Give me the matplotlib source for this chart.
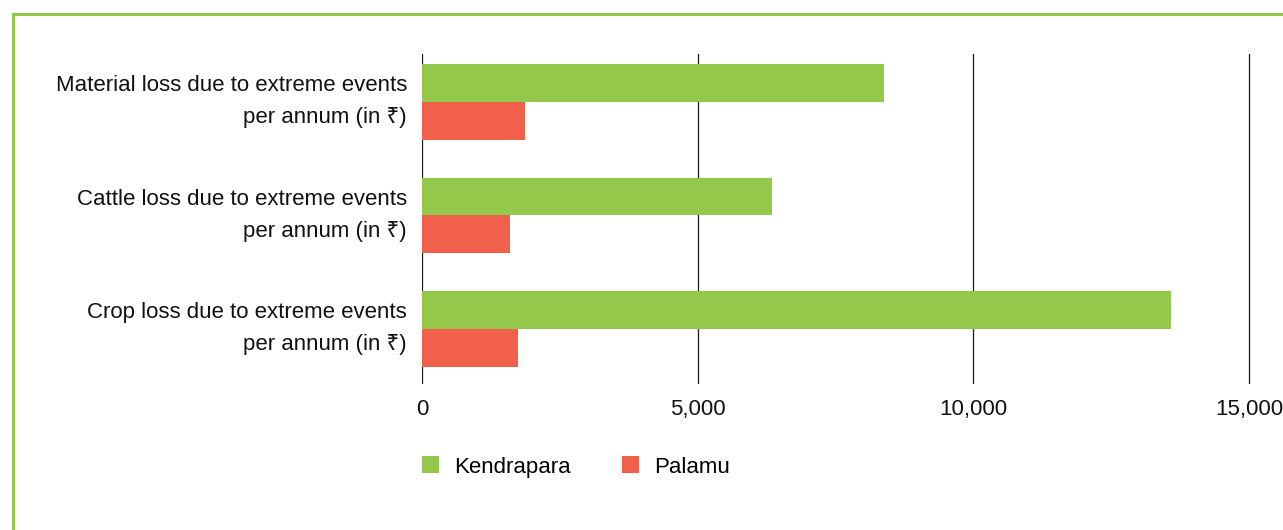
import matplotlib
matplotlib.use("Agg")
import matplotlib.pyplot as plt
import matplotlib.transforms as mtransforms
from matplotlib.lines import Line2D
from matplotlib.patches import Rectangle

# Data
categories = [
    "Crop loss due to extreme events\nper annum (in ₹)",
    "Cattle loss due to extreme events\nper annum (in ₹)",
    "Material loss due to extreme events\nper annum (in ₹)",
]
kendrapara = [13590, 6350, 8380]
palamu = [1745, 1600, 1870]
series_names = ["Kendrapara", "Palamu"]
x_ticks = [0, 5000, 10000, 15000]
x_tick_labels = ["0", "5,000", "10,000", "15,000"]

GREEN = "#93C84A"
RED = "#F1604B"
FS = 16

plt.rcParams["font.family"] = ["Liberation Sans", "Noto Sans", "DejaVu Sans"]

W, H = 1283, 530
x_max = 15030
fig = plt.figure(figsize=(W / 100, H / 100), dpi=100)
ax = fig.add_axes([422 / W, 1 - 384 / H, (1249 - 422) * x_max / 15000 / W, (384 - 54) / H])

bar_h = 0.333
ypos = list(range(len(categories)))
ax.barh([y + bar_h / 2 for y in ypos], kendrapara, height=bar_h, color=GREEN, zorder=3)
ax.barh([y - bar_h / 2 for y in ypos], palamu, height=bar_h, color=RED, zorder=3)

ax.set_xlim(0, x_max)
ax.set_ylim(-0.485, 2.423)
ax.set_xticks(x_ticks)
ax.set_xticklabels(x_tick_labels)
ax.set_yticks(ypos)
ax.set_yticklabels(categories, ha="right", multialignment="right", linespacing=1.7)
ax.tick_params(axis="both", length=0, labelsize=FS, colors="#111111")
ax.tick_params(axis="x", pad=10.5)
ax.tick_params(axis="y", pad=10.8)

# nudge the category labels up a little, like the original
shift = mtransforms.ScaledTranslation(0, 6 / 72, fig.dpi_scale_trans)
for lbl in ax.get_yticklabels():
    lbl.set_transform(lbl.get_transform() + shift)

for s in ax.spines.values():
    s.set_visible(False)
ax.set_axisbelow(True)
ax.grid(axis="x", color="#1a1a1a", linewidth=0.9, zorder=0)
ax.grid(axis="y", visible=False)

# Legend below the chart
handles = [
    Rectangle((0, 0), 1, 1, facecolor=GREEN),
    Rectangle((0, 0), 1, 1, facecolor=RED),
]
fig.legend(
    handles,
    series_names,
    loc="center left",
    bbox_to_anchor=(422 / W, 1 - 467 / H),
    ncol=2,
    frameon=False,
    fontsize=FS,
    handlelength=0.77,
    handleheight=0.77,
    handletextpad=0.68,
    columnspacing=2.3,
    borderpad=0,
    borderaxespad=0,
)

# Green frame (top and left edges visible in the crop)
fig.add_artist(Line2D([13 / W, 1], [1 - 14 / H, 1 - 14 / H], color=GREEN, linewidth=2.2,
                      transform=fig.transFigure))
fig.add_artist(Line2D([13 / W, 13 / W], [0, 1 - 14 / H], color=GREEN, linewidth=2.2,
                      transform=fig.transFigure))

fig.savefig("out.png", dpi=100)
